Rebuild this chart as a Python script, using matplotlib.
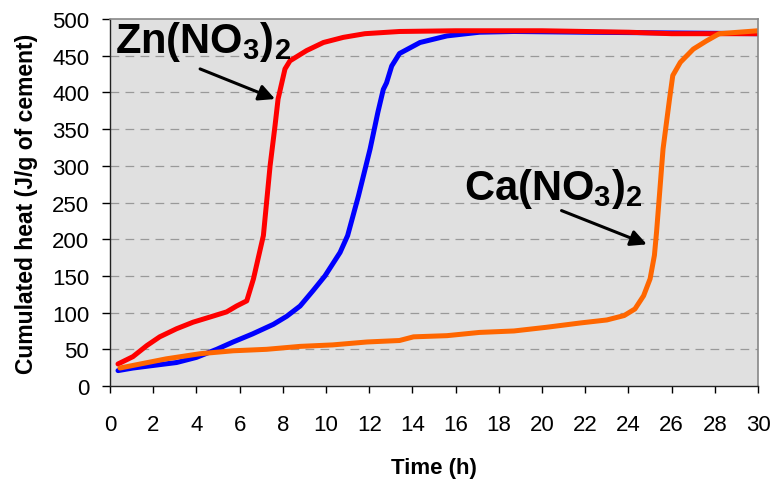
import numpy as np
import matplotlib.pyplot as plt

plt.rcParams['font.family'] = ['Liberation Sans', 'DejaVu Sans']
plt.rcParams['mathtext.fontset'] = 'custom'
plt.rcParams['mathtext.rm'] = 'Liberation Sans:bold'
plt.rcParams['mathtext.bf'] = 'Liberation Sans:bold'
plt.rcParams['mathtext.default'] = 'bf'

# Cumulated heat curves (time in h, heat in J/g of cement)
ref_t = [0.37, 1.06, 2.0, 3.08, 4.0, 4.94, 5.7, 6.6, 7.56, 8.18, 8.8, 9.4, 9.95,
         10.65, 11.0, 11.5, 12.04, 12.4, 12.65, 12.8, 13.04, 13.4, 14.35, 15.6,
         17.1, 18.7, 22.0, 26.0, 30.0]
ref_q = [21, 24.5, 28, 32, 39, 50, 60, 71, 84, 95, 109, 130, 150,
         182, 205, 259, 323, 373, 404, 413, 436, 453, 468, 477,
         482, 483, 482, 481, 480]

zn_t = [0.37, 1.06, 1.7, 2.3, 3.08, 3.85, 4.63, 5.4, 5.86, 6.33, 6.64, 7.1,
        7.41, 7.64, 7.78, 8.1, 8.33, 9.1, 9.88, 10.8, 11.8, 13.4, 16.0, 20.0,
        24.0, 26.0, 30.0]
zn_q = [30, 40, 55, 67, 78, 87, 94, 101, 109, 116, 146, 205,
        300, 355, 391, 432, 443, 457, 468, 475, 480, 483, 484, 484,
        482, 480, 480]

ca_t = [0.46, 1.4, 2.6, 4.17, 5.7, 7.25, 8.8, 10.3, 11.9, 13.4, 14.05, 15.6,
        17.1, 18.7, 20.2, 21.8, 23.0, 23.8, 24.3, 24.7, 25.0, 25.2, 25.3,
        25.6, 25.9, 26.05, 26.4, 27.0, 27.6, 28.2, 30.0]
ca_q = [24.5, 30, 37, 44, 48, 50, 54, 56, 60, 62, 67, 68.6,
        73, 75, 80, 86, 90, 96, 105, 123, 146, 178, 210,
        323, 391, 423, 441, 459, 470, 480, 484]

x_ticks = np.arange(0, 31, 2)
y_ticks = np.arange(0, 501, 50)

fig = plt.figure(figsize=(7.72, 4.81), dpi=100)
ax = fig.add_axes([0.1425, 0.1954, 0.8395, 0.763])
ax.set_facecolor('#e0e0e0')

ax.plot(ref_t, ref_q, color='#0000ff', lw=3.6, solid_capstyle='round')
ax.plot(zn_t, zn_q, color='#ff0000', lw=3.6, solid_capstyle='round')
ax.plot(ca_t, ca_q, color='#ff6600', lw=3.6, solid_capstyle='round')

ax.set_xlim(0, 30)
ax.set_ylim(0, 500)
ax.set_xticks(x_ticks)
ax.set_yticks(y_ticks)
ax.tick_params(axis='x', direction='out', length=5, width=1, pad=15, labelsize=16)
ax.tick_params(axis='y', direction='out', length=6, width=1, pad=9, labelsize=16)

# dashed horizontal grid, skipping the frame edges
for v in y_ticks[1:-1]:
    ax.axhline(v, color='#999999', lw=0.9, ls=(0, (7, 5)), zorder=0.5)

for side in ['top', 'right']:
    ax.spines[side].set_color('#888888')
    ax.spines[side].set_linewidth(1.2)
for side in ['left', 'bottom']:
    ax.spines[side].set_color('#222222')
    ax.spines[side].set_linewidth(1.0)

ax.set_xlabel('Time (h)', fontsize=16, fontweight='bold', labelpad=16)
ax.set_ylabel('Cumulated heat (J/g of cement)', fontsize=16.5, fontweight='bold', labelpad=10)

ax.text(0.23, 455, r'Zn(NO$_3$)$_2$', fontsize=30, fontweight='bold',
        ha='left', va='baseline')
ax.annotate('', xy=(7.64, 391), xytext=(4.17, 432),
            arrowprops=dict(arrowstyle='-|>', color='black', lw=2.2,
                            mutation_scale=24, shrinkA=0, shrinkB=0))

ax.text(16.4, 255, r'Ca(NO$_3$)$_2$', fontsize=30, fontweight='bold',
        ha='left', va='baseline')
ax.annotate('', xy=(24.85, 193), xytext=(20.9, 239),
            arrowprops=dict(arrowstyle='-|>', color='black', lw=2.2,
                            mutation_scale=24, shrinkA=0, shrinkB=0))

fig.savefig('out.png', dpi=100)
